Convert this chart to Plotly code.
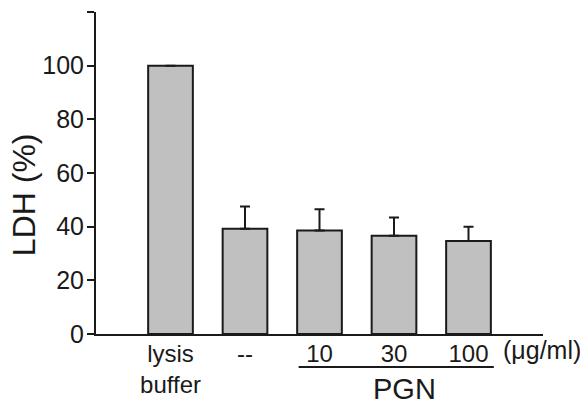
import plotly.graph_objects as go

categories = ["lysis buffer", "--", "10", "30", "100"]
tick_labels = ["lysis<br>buffer", "--", "10", "30", "100"]
ldh_values = [100, 39.2, 38.6, 36.6, 34.7]
ldh_err_plus = [0, 8.3, 7.9, 6.8, 5.3]
y_tickvals = [0, 20, 40, 60, 80, 100, 120]
y_ticktext = ["0", "20", "40", "60", "80", "100", ""]

FONT = "Liberation Sans, Arial, sans-serif"
INK = "#1a1a1a"

fig = go.Figure()
fig.add_trace(go.Bar(
    x=categories,
    y=ldh_values,
    width=0.6,
    marker=dict(color="#c0c0c0", line=dict(color=INK, width=2)),
    error_y=dict(type="data", array=ldh_err_plus, symmetric=False,
                 arrayminus=[0] * len(ldh_values),
                 color=INK, thickness=2, width=5),
))

# page body adds an 8px offset, so margins are shifted to compensate
fig.update_layout(
    template="none",
    width=588, height=405,
    margin=dict(l=88, r=53, t=4, b=79, autoexpand=False),
    paper_bgcolor="white", plot_bgcolor="white",
    showlegend=False,
    font=dict(family=FONT, color=INK),
    bargap=0.4,
)
fig.update_xaxes(
    type="category",
    automargin=False,
    range=[-1, 5],
    tickvals=categories,
    ticktext=tick_labels,
    tickfont=dict(size=24, family=FONT, color=INK),
    ticklabelstandoff=-3,
    showline=True, linecolor=INK, linewidth=2,
    ticks="", showgrid=False, zeroline=False,
)
fig.update_yaxes(
    automargin=False,
    range=[0, 120],
    tickvals=y_tickvals,
    ticktext=y_ticktext,
    tickfont=dict(size=25, family=FONT, color=INK),
    ticklabelstandoff=-2,
    showline=True, linecolor=INK, linewidth=2,
    ticks="outside", ticklen=7, tickwidth=2, tickcolor=INK,
    showgrid=False, zeroline=False,
)

fig.add_annotation(text="LDH (%)", xref="paper", yref="paper",
                   x=-0.162, y=0.433, xanchor="center", yanchor="middle",
                   textangle=-90, showarrow=False,
                   font=dict(size=32, family=FONT, color=INK))
fig.add_annotation(text="PGN", xref="x", yref="paper",
                   x=3.14, y=-0.17, xanchor="center", yanchor="middle",
                   showarrow=False,
                   font=dict(size=29, family=FONT, color=INK))
fig.add_annotation(text="(μg/ml)", xref="x", yref="paper",
                   x=4.435, y=-0.05, xanchor="left", yanchor="middle",
                   showarrow=False,
                   font=dict(size=25, family=FONT, color=INK))
fig.add_shape(type="line", xref="x", yref="paper",
              x0=1.72, x1=4.34, y0=-0.1025, y1=-0.1025,
              line=dict(color=INK, width=2))

fig.write_html("out.html")
